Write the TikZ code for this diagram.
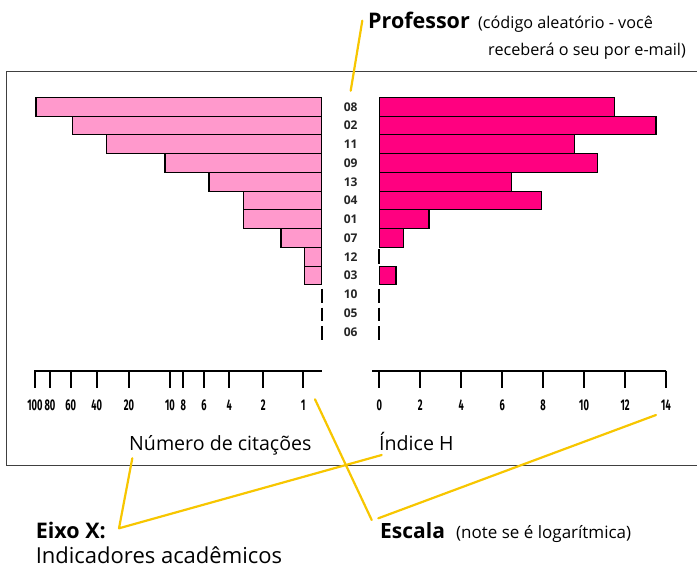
\documentclass[tikz,border=0pt]{standalone}
\usepackage{fontspec}
\setmainfont{Open Sans}
\newfontfamily\axfont{Fira Sans}
\definecolor{pinkL}{HTML}{FF99CC}
\definecolor{pinkD}{HTML}{FF0080}
\definecolor{gold}{HTML}{F7C600}
\definecolor{frameC}{HTML}{404040}
\newcommand\axl[1]{\scalebox{0.6}[1]{\axfont\bfseries #1}}
\begin{document}
\begin{tikzpicture}[x=1pt,y=-1pt,
  lbar/.style={draw=black,line width=1.1pt,fill=pinkL},
  rbar/.style={draw=black,line width=1.1pt,fill=pinkD},
  zerotick/.style={draw=black,line width=1.8pt},
  rowlab/.style={font=\fontsize{12}{12}\selectfont\bfseries,inner sep=0pt,text=black!85},
  axline/.style={draw=black,line width=1.8pt},
  axlab/.style={font=\fontsize{15.5}{15.5}\selectfont,inner sep=0pt},
  captxt/.style={font=\fontsize{19.6}{19.6}\selectfont,inner sep=0pt,anchor=base west},
  note/.style={font=\fontsize{16.2}{16.2}\selectfont,inner sep=0pt},
  title/.style={font=\fontsize{21.5}{21.5}\selectfont\bfseries,inner sep=0pt,anchor=base west},
  pointer/.style={draw=gold,line width=2.2pt,line cap=round,line join=round}]
\useasboundingbox (0,0) rectangle (697,570);
% frame
\draw[frameC,line width=1pt] (697,71.5) -- (6,71.5) -- (6,465.5) -- (697,465.5);
% rows
\def\rt{97.3}\def\rh{18.75}
\foreach \i/\l/\lx/\rx in {0/08/36/614.3,1/02/72.3/656,2/11/106.7/574.3,3/09/165/597.3,4/13/209/511.7,5/04/243.3/541.7,6/01/243.3/429,7/07/281/403.7,9/03/304.3/396}{
  \draw[lbar] (\lx,\rt+\i*\rh) rectangle (321.7,\rt+\i*\rh+\rh);
  \draw[rbar] (379.3,\rt+\i*\rh) rectangle (\rx,\rt+\i*\rh+\rh);
}
% row 12 (index 8): left bar, right zero
\draw[lbar] (304.3,\rt+8*\rh) rectangle (321.7,\rt+9*\rh);
\draw[zerotick] (379.3,\rt+8*\rh+1.5) -- (379.3,\rt+9*\rh-2.5);
\foreach \i in {10,11,12}{
  \draw[zerotick] (321.7,\rt+\i*\rh+4) -- (321.7,\rt+\i*\rh+\rh-1);
  \draw[zerotick] (379.3,\rt+\i*\rh+4) -- (379.3,\rt+\i*\rh+\rh-1);
}
\foreach \i/\l in {0/08,1/02,2/11,3/09,4/13,5/04,6/01,7/07,8/12,9/03,10/10,11/05,12/06}{
  \node[rowlab] (r\l) at (350.7,\rt+\i*\rh+9.6) {\l};
}
% left log axis
\draw[axline] (34.3,370.7) -- (321.7,370.7);
\foreach \x/\v in {35/100,50/80,70.7/60,96.7/40,129/20,170/10,183.3/8,204/6,229.3/4,263.3/2,303.3/1}{
  \draw[axline] (\x,370.7) -- (\x,388.3);
  \node[axlab] (la\v) at (\x,405.5) {\axl{\v}};
}
% right linear axis
\draw[axline] (372.3,370.7) -- (666,370.7);
\foreach \k in {0,2,...,14}{
  \draw[axline] (379.3+20.48*\k,370.7) -- (379.3+20.48*\k,388.3);
  \node[axlab] (ra\k) at (379.3+20.48*\k,405.5) {\axl{\k}};
}
% captions
\node[captxt] (numcit) at (129,450) {Número de citações};
\node[captxt] (indh) at (379,450) {Índice H};
\node[title] (prof) at (368,28.3) {Professor};
\node[note,anchor=base west] (prof1) at (478,28.3) {(código aleatório - você};
\node[note,anchor=base east] (prof2) at (686,55) {receberá o seu por e-mail)};
\node[title] (eixo) at (35.6,538.3) {Eixo X:};
\node[captxt,font=\fontsize{22}{22}\selectfont] (indic) at (35.6,563) {Indicadores acadêmicos};
\node[title,font=\fontsize{21}{21}\selectfont\bfseries] (escala) at (380,538.3) {Escala};
\node[note,anchor=base west,font=\fontsize{17}{17}\selectfont] (escnote) at (456,538.3) {(note se é logarítmica)};
% pointers
\coordinate (pA) at (350.7,90.7);
\coordinate (pB) at (362.3,20.7);
\coordinate (eA) at (132.3,458.3);
\coordinate (eB) at (119,528.3);
\coordinate (eC) at (381.7,455);
\coordinate (sA) at (315,399.3);
\coordinate (sB) at (371.7,520);
\coordinate (sC) at (378.3,518.3);
\coordinate (sD) at (656,415);
\draw[pointer] (pA) -- (pB);
\draw[pointer] (eA) -- (eB) -- (eC);
\draw[pointer] (sA) -- (sB);
\draw[pointer] (sC) -- (sD);
\end{tikzpicture}
\end{document}
